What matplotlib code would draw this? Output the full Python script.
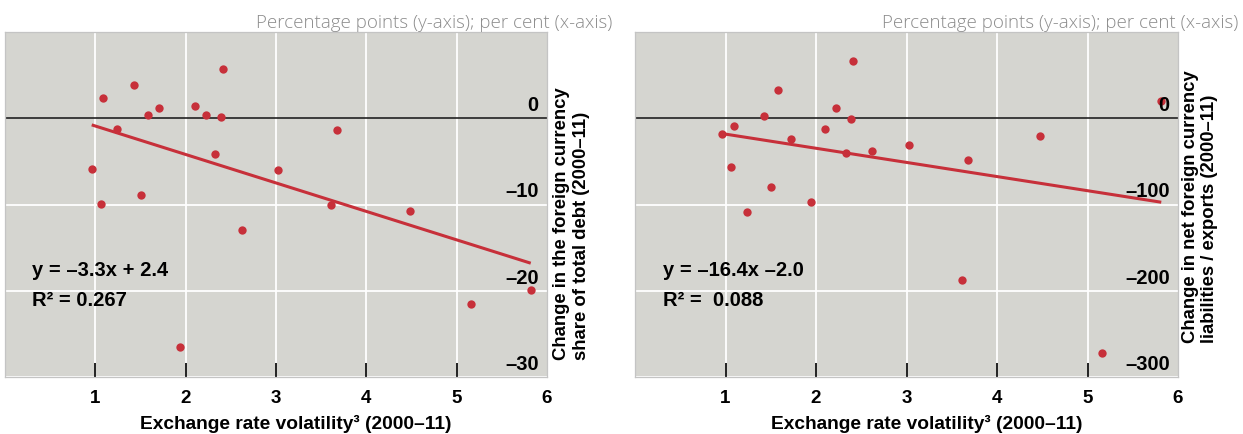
import matplotlib
matplotlib.use("Agg")
import matplotlib.pyplot as plt
import matplotlib.transforms as mtransforms
import numpy as np

# ---------------- data ----------------
vol_left = [2.41, 1.43, 1.08, 1.71, 2.10, 1.58, 2.22, 2.39, 1.24, 3.68, 2.32,
            0.96, 3.02, 1.50, 1.06, 3.61, 4.48, 2.62, 5.82, 5.16, 1.94]
fx_share = [5.7, 3.9, 2.4, 1.2, 1.4, 0.4, 0.35, 0.1, -1.3, -1.4, -4.2,
            -5.85, -5.95, -8.9, -9.9, -10.0, -10.75, -12.9, -19.95, -21.5, -26.5]

vol_right = [2.41, 1.58, 2.22, 1.43, 5.815, 2.39, 1.09, 0.965, 2.10, 1.72, 4.48,
             3.03, 2.33, 2.62, 3.68, 1.06, 1.50, 1.947, 1.24, 3.61, 5.16]
net_fx = [66, 33, 12, 3, 20, -1, -8.6, -18, -12.8, -23.7, -20.2,
          -30.6, -40, -38.3, -48.7, -56.5, -79.3, -97, -108.7, -188, -272]

fit_left = (-3.3, 2.4)
fit_right = (-16.4, -2.0)
eq_left = ["y = \u20133.3x + 2.4", "R\u00b2 = 0.267"]
eq_right = ["y = \u201316.4x \u20132.0", "R\u00b2 =  0.088"]

x_ticks = [1, 2, 3, 4, 5, 6]
y_ticks_left = [0, -10, -20, -30]
y_ticks_right = [0, -100, -200, -300]
ylim_left = (-30, 10)
ylim_right = (-300, 100)

unit_text = "Percentage points (y-axis); per cent (x-axis)"
xlabel = "Exchange rate volatility\u00b3 (2000\u201311)"
ylabel_left = "Change in the foreign currency\nshare of total debt (2000\u201311)"
ylabel_right = "Change in net foreign currency\nliabilities / exports (2000\u201311)"

# ---------------- style ----------------
plt.rcParams['font.family'] = ['Liberation Sans', 'DejaVu Sans']
W, H = 1243, 435
BG = '#d5d5d0'
RED = '#c7303a'

fig = plt.figure(figsize=(W / 100, H / 100), dpi=100)
fig.patch.set_facecolor('white')


def rect(l, r, t, b):
    return [l / W, 1 - b / H, (r - l) / W, (b - t) / H]


def dash(v):
    return f"{v}".replace('-', '\u2013')


def panel(pos, xs, ys, fit, eq, yticks, ylim, ylabel, title_right, ylab_x, ylab_bottom, eq_x):
    ax = fig.add_axes(rect(*pos))
    ax.set_facecolor(BG)
    ax.set_xlim(0, 6)
    ax.set_ylim(*ylim)
    for s in ax.spines.values():
        s.set_color('#c4c4c4')
        s.set_linewidth(0.9)
    # grid
    for xv in x_ticks[:-1]:
        ax.axvline(xv, color='white', lw=1.3, zorder=1)
    for yv in yticks[1:]:
        ax.axhline(yv, color='white', lw=1.3, zorder=1)
    ax.axhline(0, color='#222222', lw=1.2, zorder=2)
    # ticks
    ax.set_xticks(x_ticks)
    ax.set_xticklabels([str(v) for v in x_ticks], fontsize=13.5, fontweight='bold')
    ax.tick_params(axis='x', direction='in', length=10, width=1.3, color='#111111', pad=9)
    ax.set_yticks([])
    ax.xaxis.get_major_ticks()[-1].tick1line.set_visible(False)
    tr = mtransforms.blended_transform_factory(ax.transAxes, ax.transData)
    off = mtransforms.offset_copy(tr, fig=fig, x=0, y=3, units='points')
    for yv in yticks:
        ax.text(0.985, yv, dash(yv), transform=off, ha='right', va='bottom',
                fontsize=14.5, fontweight='bold', zorder=6)
    # data
    ax.scatter(xs, ys, s=36, color=RED, zorder=4, linewidths=0)
    m, c = fit
    xl = np.array([min(xs), max(xs)])
    ax.plot(xl, m * xl + c, color=RED, lw=2.2, zorder=3, solid_capstyle='butt')
    # equation
    fig.text(eq_x / W, 1 - 270 / H, eq[0], ha='left', va='center', fontsize=14.5,
             fontweight='bold')
    fig.text(eq_x / W, 1 - 300 / H, eq[1], ha='left', va='center', fontsize=14.5,
             fontweight='bold')
    # labels
    l, r = pos[0], pos[1]
    fig.text(((l + r) / 2 + 20) / W, 1 - 424 / H, xlabel, ha='center', va='center',
             fontsize=13.8, fontweight='bold')
    fig.text(ylab_x / W, 1 - ylab_bottom / H, ylabel, rotation=90, ha='center',
             va='bottom', multialignment='left', fontsize=13.3, fontweight='bold',
             linespacing=1.2)
    fig.text(title_right / W, 1 - 28 / H, unit_text, ha='right', va='baseline',
             fontsize=13.5, color='#8c8c8c', family=['Open Sans', 'Liberation Sans'],
             fontweight='light')
    return ax


panel((5, 547, 33, 378), vol_left, fx_share, fit_left, eq_left, y_ticks_left,
      ylim_left, ylabel_left, 612, 571.5, 360, 32)
panel((635, 1178, 33, 378), vol_right, net_fx, fit_right, eq_right, y_ticks_right,
      ylim_right, ylabel_right, 1238, 1200, 343, 663)

fig.savefig('out.png', dpi=100, facecolor='white')
